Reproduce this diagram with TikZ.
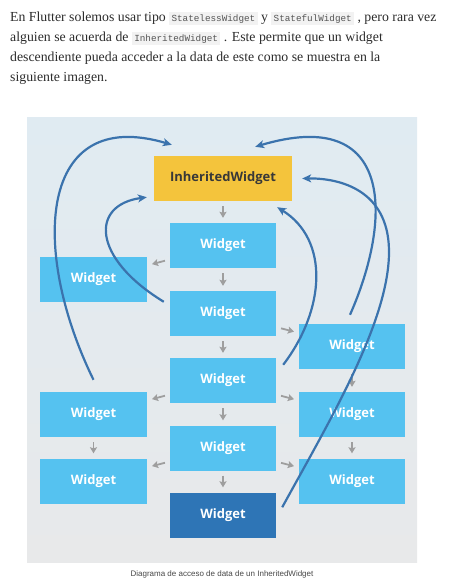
\documentclass[tikz,border=0pt]{standalone}
\usepackage{fontspec}
\setmainfont{Liberation Serif}
\newfontfamily\boxfont{Open Sans}
\newfontfamily\capfont{Liberation Sans}
\newfontfamily\monofont{Liberation Mono}
\usetikzlibrary{arrows.meta}
\definecolor{bodytext}{HTML}{2B2B2B}
\definecolor{codebg}{HTML}{F2F2F2}
\definecolor{codetext}{HTML}{555555}
\definecolor{paneltop}{HTML}{E0EBF2}
\definecolor{panelbot}{HTML}{E8E9EA}
\definecolor{widgetblue}{HTML}{55C2F0}
\definecolor{widgetdark}{HTML}{2E75B6}
\definecolor{inheritedyellow}{HTML}{F4C43C}
\definecolor{curveblue}{HTML}{3B73AD}
\definecolor{arrowgray}{HTML}{9E9E9E}
\newcommand{\inlinecode}[1]{{\setlength{\fboxsep}{2.3pt}\colorbox{codebg}{\monofont\fontsize{9.3}{10}\selectfont\color{codetext}#1}}}
\tikzset{
  line/.style={anchor=base west, inner sep=0pt, text=bodytext, font=\fontsize{13.8}{20}\selectfont},
  widget/.style={fill=widgetblue, minimum width=106pt, minimum height=45pt, inner sep=0pt,
    text=white, font=\boxfont\bfseries\fontsize{13}{14}\selectfont},
  grayarrow/.style={draw=arrowgray, line width=1.8pt, shorten <=5pt, shorten >=5pt,
    -{Stealth[length=6pt,width=7pt,inset=1pt]}},
  bluearrow/.style={draw=curveblue, line width=2.2pt, -{Stealth[length=9pt,width=8pt,inset=2.5pt]}}
}
\begin{document}
\begin{tikzpicture}[x=1pt,y=-1pt]
  \useasboundingbox (0,0) rectangle (452,587);
  % text above the picture
  \node[line] (t1) at (10,21) {En Flutter solemos usar tipo \inlinecode{StatelessWidget} y \inlinecode{StatefulWidget} , pero rara vez};
  \node[line] (t2) at (10,41) {alguien se acuerda de \inlinecode{InheritedWidget} . Este permite que un widget};
  \node[line] (t3) at (10,61) {descendiente pueda acceder a la data de este como se muestra en la};
  \node[line] (t4) at (10,81) {siguiente imagen.};
  % panel
  \shade[top color=paneltop, bottom color=panelbot] (27,117) rectangle (417,562);
  % boxes
  \node[widget, fill=inheritedyellow, minimum width=138pt, text=black!78] (iw) at (223,178.5) {InheritedWidget};
  \node[widget] (w1) at (223,245.5) {Widget};
  \node[widget] (w2) at (223,313.5) {Widget};
  \node[widget] (w3) at (223,380.5) {Widget};
  \node[widget] (w4) at (223,448) {Widget};
  \node[widget, fill=widgetdark] (w5) at (223,515) {Widget};
  \node[widget, minimum width=107pt] (l1) at (93.5,279.5) {Widget};
  \node[widget, minimum width=107pt] (l2) at (93.5,414.5) {Widget};
  \node[widget, minimum width=107pt] (l3) at (93.5,481) {Widget};
  \node[widget] (r1) at (352,346.5) {Widget};
  \node[widget] (r2) at (352,414.5) {Widget};
  \node[widget] (r3) at (352,481) {Widget};
  % gray arrows
  \draw[grayarrow] (iw) -- (w1);
  \draw[grayarrow] (w1) -- (w2);
  \draw[grayarrow] (w2) -- (w3);
  \draw[grayarrow] (w3) -- (w4);
  \draw[grayarrow] (w4) -- (w5);
  \draw[grayarrow] (w1) -- (l1);
  \draw[grayarrow] (w2) -- (r1);
  \draw[grayarrow] (w3) -- (l2);
  \draw[grayarrow] (w3) -- (r2);
  \draw[grayarrow] (w4) -- (l3);
  \draw[grayarrow] (w4) -- (r3);
  \draw[grayarrow] (l2) -- (l3);
  \draw[grayarrow] (r1) -- (r2);
  \draw[grayarrow] (r2) -- (r3);
  % blue curves
  \draw[bluearrow] ([yshift=12pt]l2.north) .. controls (30,250) and (38,105) .. ([shift={(18pt,11pt)}]iw.north west);
  \draw[bluearrow] ([shift={(-6pt,-11pt)}]w2.north west) .. controls (92,258) and (90,205) .. ([shift={(-7pt,4pt)}]iw.south west);
  \draw[bluearrow] ([shift={(7pt,-7pt)}]w3.north east) .. controls (325,310) and (330,240) .. ([shift={(-15pt,-6pt)}]iw.south east);
  \draw[bluearrow] ([shift={(-2pt,9pt)}]r1.north) .. controls (392,220) and (395,105) .. ([shift={(-37pt,9pt)}]iw.north east);
  \draw[bluearrow] ([shift={(6pt,-15pt)}]w5.north east) .. controls (330,420) and (390,320) .. (389,250)
    .. controls (388,190) and (340,178) .. ([xshift=10pt]iw.east);
  % caption
  \node[text=black!72, font=\capfont\fontsize{8}{10}\selectfont] (cap) at (222,574) {Diagrama de acceso de data de un InheritedWidget};
\end{tikzpicture}
\end{document}
